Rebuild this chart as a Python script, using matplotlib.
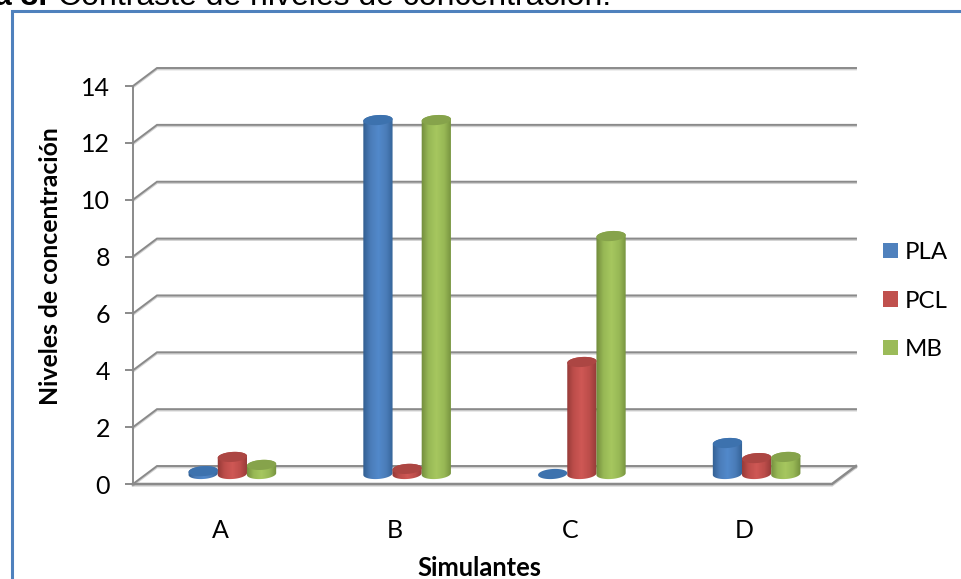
# -*- coding: utf-8 -*-
import numpy as np
import matplotlib
matplotlib.use("Agg")
import matplotlib.pyplot as plt
import matplotlib.patheffects as pe
from matplotlib.colors import LinearSegmentedColormap
from matplotlib.patches import Patch, Polygon, Rectangle

categories = ["A", "B", "C", "D"]
pla = [0.1, 12.45, 0.0, 1.09]
pcl = [0.6, 0.18, 3.94, 0.56]
mb = [0.32, 12.45, 8.37, 0.6]
y_ticks = [0, 2, 4, 6, 8, 10, 12, 14]

series = [("PLA", pla), ("PCL", pcl), ("MB", mb)]
shades = {
    "PLA": ["#2E5A8C", "#4A7CB8", "#5289CB", "#4A7CB8", "#2F5D90"],
    "PCL": ["#8C3533", "#BC4D4A", "#CF5855", "#BC4D4A", "#8F3836"],
    "MB": ["#6C8538", "#97B755", "#A6C75F", "#97B755", "#6F8A3A"],
}
flat = {"PLA": "#4F81BD", "PCL": "#C0504D", "MB": "#9BBB59"}
tops = {"PLA": "#3D72AE", "PCL": "#AC4643", "MB": "#86A34B"}

W, H = 961, 579
GRID = "#8A8A8A"
PX_X = 699 / 4     # pixels per category
PX_Y = 398 / 14    # pixels per unit
DX = 24 / PX_X     # depth of the floor
DY = 18 / PX_Y
BAR_W = 29.3 / PX_X
shadow = [pe.SimpleLineShadow(offset=(0, -1), alpha=0.18), pe.Normal()]

plt.rcParams["font.family"] = ["Lato", "DejaVu Sans"]
fig = plt.figure(figsize=(W / 100, H / 100), dpi=100)
ax = fig.add_axes([133 / W, 1 - 484 / H, 699 / W, 398 / H])
ax.set_xlim(0, 4)
ax.set_ylim(0, 14)
ax.patch.set_alpha(0)

# back wall and floor
for v in y_ticks:
    ax.plot([0, DX, 4 + DX], [v, v + DY, v + DY], color=GRID, lw=1.4, clip_on=False,
            zorder=1, solid_joinstyle="miter", path_effects=shadow)
ax.plot([0, 4, 4 + DX], [0, 0, DY], color=GRID, lw=1.8, clip_on=False, zorder=1,
        solid_joinstyle="miter", path_effects=shadow)


def ellipse(cx, cy, t):
    # slightly tilted ellipse, worked out in pixels then put back in data units
    a, b, th = BAR_W * PX_X / 2, 5.0, np.radians(4)
    px = a * np.cos(t) * np.cos(th) - b * np.sin(t) * np.sin(th)
    py = a * np.cos(t) * np.sin(th) + b * np.sin(t) * np.cos(th)
    return cx + px / PX_X, cy + py / PX_Y


def cylinder(cx, value, name):
    base = 10 / PX_Y
    top = base + value
    tt = np.linspace(0, 2 * np.pi, 80)
    if value > 0:
        x1, y1 = ellipse(cx, top, np.linspace(0, np.pi, 40))
        x2, y2 = ellipse(cx, base, np.linspace(np.pi, 2 * np.pi, 40))
        verts = np.column_stack([np.r_[x1, x2], np.r_[y1, y2]])
        cmap = LinearSegmentedColormap.from_list(name, shades[name])
        im = ax.imshow(np.linspace(0, 1, 64).reshape(1, -1), cmap=cmap,
                       extent=[cx - BAR_W / 2 - 0.01, cx + BAR_W / 2 + 0.01, 0, 14],
                       aspect="auto", zorder=3)
        im.set_clip_path(Polygon(verts, closed=True, transform=ax.transData))
    ex, ey = ellipse(cx, top, tt)
    ax.fill(ex, ey, color=tops[name], lw=0, zorder=4, clip_on=False)


for i in range(len(categories)):
    for j, (name, vals) in enumerate(series):
        cylinder(i + 0.5 + DX / 2 + (j - 1) * 0.167, vals[i], name)

ax.set_xlim(0, 4)
ax.set_ylim(0, 14)

for s in ["top", "right", "bottom"]:
    ax.spines[s].set_visible(False)
ax.spines["left"].set_color(GRID)
ax.spines["left"].set_linewidth(1.4)
ax.set_yticks(y_ticks)
ax.set_xticks([i + 0.5 for i in range(len(categories))])
ax.set_xticklabels(categories)
ax.tick_params(axis="y", length=5.5, width=1.4, color=GRID, labelsize=18, pad=11)
ax.tick_params(axis="x", length=0, labelsize=18, pad=25)
for lab in ax.get_yticklabels():
    lab.set_verticalalignment("center_baseline")
ax.set_xlabel("Simulantes", fontsize=18.4, fontweight="bold", labelpad=10.5, x=0.495)
ax.set_ylabel("Niveles de concentración", fontsize=17.8, fontweight="bold", labelpad=14,
              y=0.548)

handles = [Patch(facecolor=flat[n], label=n) for n, _ in series]
fig.legend(handles=handles, loc="center left", bbox_to_anchor=(883 / W, 1 - 301 / H),
           frameon=False, fontsize=17.3, handlelength=0.62, handleheight=0.62,
           handletextpad=0.3, labelspacing=1.14, borderpad=0, borderaxespad=0)

# document border and the caption cut off by the crop
fig.add_artist(Rectangle((11.5 / W, -0.1), 1.2, 1.1 - 11.5 / H, transform=fig.transFigure,
                         fill=False, edgecolor="#4F81BD", lw=2.2))
fig.text(-6 / W, 1 - 5 / H, "a 3.", fontsize=23, fontweight="bold",
         family="Liberation Sans", va="baseline", color="black")
fig.text(58 / W, 1 - 5 / H, "Contraste de niveles de concentración.", fontsize=23,
         family="Liberation Sans", va="baseline", color="black")

fig.savefig("out.png", dpi=100)
